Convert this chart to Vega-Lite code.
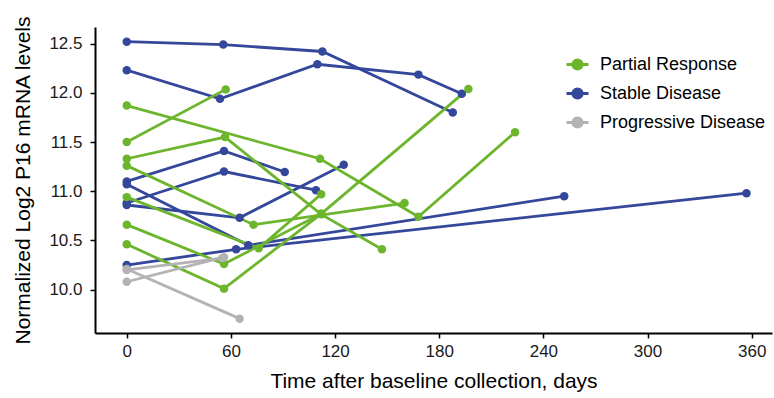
{
  "$schema": "https://vega.github.io/schema/vega-lite/v6.json",
  "width": 677,
  "height": 306,
  "autosize": {"type": "none"},
  "padding": {"left": 95, "top": 27, "right": 2, "bottom": 65},
  "background": "white",
  "config": {
    "view": {"stroke": null},
    "font": "Liberation Sans",
    "axis": {
      "grid": false,
      "domainColor": "#000000",
      "domainWidth": 2,
      "tickColor": "#000000",
      "tickWidth": 1.5,
      "tickSize": 5,
      "labelFont": "Liberation Sans",
      "labelFontSize": 17,
      "labelColor": "#1a1a1a",
      "titleFont": "Liberation Sans",
      "titleFontSize": 21,
      "titleFontWeight": "normal",
      "titleColor": "#000000"
    }
  },
  "data": {
    "values": [
      {"id": "B1", "group": "Stable Disease", "day": 0, "value": 12.52},
      {"id": "B1", "group": "Stable Disease", "day": 55.6, "value": 12.49},
      {"id": "B1", "group": "Stable Disease", "day": 112.7, "value": 12.42},
      {"id": "B1", "group": "Stable Disease", "day": 187.8, "value": 11.80},
      {"id": "B2", "group": "Stable Disease", "day": 0, "value": 12.23},
      {"id": "B2", "group": "Stable Disease", "day": 53.7, "value": 11.94},
      {"id": "B2", "group": "Stable Disease", "day": 109.8, "value": 12.29},
      {"id": "B2", "group": "Stable Disease", "day": 168, "value": 12.185},
      {"id": "B2", "group": "Stable Disease", "day": 193, "value": 11.99},
      {"id": "B3", "group": "Stable Disease", "day": 0, "value": 11.10},
      {"id": "B3", "group": "Stable Disease", "day": 56, "value": 11.41},
      {"id": "B3", "group": "Stable Disease", "day": 91, "value": 11.195},
      {"id": "B4", "group": "Stable Disease", "day": 0, "value": 10.88},
      {"id": "B4", "group": "Stable Disease", "day": 56, "value": 11.20},
      {"id": "B4", "group": "Stable Disease", "day": 109, "value": 11.01},
      {"id": "B5", "group": "Stable Disease", "day": 0, "value": 11.07},
      {"id": "B5", "group": "Stable Disease", "day": 70, "value": 10.45},
      {"id": "B5", "group": "Stable Disease", "day": 252, "value": 10.95},
      {"id": "B6", "group": "Stable Disease", "day": 0, "value": 10.86},
      {"id": "B6", "group": "Stable Disease", "day": 65, "value": 10.73},
      {"id": "B6", "group": "Stable Disease", "day": 125, "value": 11.27},
      {"id": "B7", "group": "Stable Disease", "day": 0, "value": 10.25},
      {"id": "B7", "group": "Stable Disease", "day": 63, "value": 10.41},
      {"id": "B7", "group": "Stable Disease", "day": 357, "value": 10.98},
      {"id": "P1", "group": "Partial Response", "day": 0, "value": 11.87},
      {"id": "P1", "group": "Partial Response", "day": 111.3, "value": 11.33},
      {"id": "P1", "group": "Partial Response", "day": 168, "value": 10.74},
      {"id": "P1", "group": "Partial Response", "day": 223.7, "value": 11.60},
      {"id": "P2", "group": "Partial Response", "day": 0, "value": 11.50},
      {"id": "P2", "group": "Partial Response", "day": 57, "value": 12.035},
      {"id": "P3", "group": "Partial Response", "day": 0, "value": 11.33},
      {"id": "P3", "group": "Partial Response", "day": 56.6, "value": 11.55},
      {"id": "P3", "group": "Partial Response", "day": 112, "value": 10.765},
      {"id": "P3", "group": "Partial Response", "day": 147, "value": 10.41},
      {"id": "P4", "group": "Partial Response", "day": 0, "value": 11.26},
      {"id": "P4", "group": "Partial Response", "day": 73, "value": 10.66},
      {"id": "P4", "group": "Partial Response", "day": 160, "value": 10.88},
      {"id": "P5", "group": "Partial Response", "day": 0, "value": 10.94},
      {"id": "P5", "group": "Partial Response", "day": 76, "value": 10.42},
      {"id": "P5", "group": "Partial Response", "day": 112, "value": 10.97},
      {"id": "P6", "group": "Partial Response", "day": 0, "value": 10.66},
      {"id": "P6", "group": "Partial Response", "day": 56, "value": 10.26},
      {"id": "P6", "group": "Partial Response", "day": 112, "value": 10.77},
      {"id": "P7", "group": "Partial Response", "day": 0, "value": 10.46},
      {"id": "P7", "group": "Partial Response", "day": 56, "value": 10.01},
      {"id": "P7", "group": "Partial Response", "day": 112, "value": 10.77},
      {"id": "P7", "group": "Partial Response", "day": 196.8, "value": 12.04},
      {"id": "G1", "group": "Progressive Disease", "day": 0, "value": 10.20},
      {"id": "G1", "group": "Progressive Disease", "day": 55, "value": 10.32},
      {"id": "G2", "group": "Progressive Disease", "day": 0, "value": 10.08},
      {"id": "G2", "group": "Progressive Disease", "day": 56, "value": 10.33},
      {"id": "G3", "group": "Progressive Disease", "day": 0, "value": 10.21},
      {"id": "G3", "group": "Progressive Disease", "day": 65, "value": 9.705}
    ]
  },
  "encoding": {
    "x": {
      "field": "day",
      "type": "quantitative",
      "scale": {"domain": [-18.3, 371.7], "nice": false, "zero": false},
      "axis": {"values": [0, 60, 120, 180, 240, 300, 360], "title": "Time after baseline collection, days", "labelPadding": 5, "titlePadding": 11}
    },
    "y": {
      "field": "value",
      "type": "quantitative",
      "scale": {"domain": [9.559, 12.669], "nice": false, "zero": false},
      "axis": {"values": [10, 10.5, 11, 11.5, 12, 12.5], "format": ".1f", "title": "Normalized Log2 P16 mRNA levels", "labelPadding": 8, "titlePadding": 15}
    },
    "color": {
      "field": "group",
      "type": "nominal",
      "scale": {
        "domain": ["Partial Response", "Stable Disease", "Progressive Disease"],
        "range": ["#6cb52d", "#34479a", "#b3b3b3"]
      },
      "legend": {
        "title": null,
        "orient": "none",
        "legendX": 470,
        "legendY": 25,
        "padding": 0,
        "rowPadding": 5,
        "labelFontSize": 18,
        "labelFont": "Liberation Sans",
        "labelColor": "#000000",
        "labelLimit": 0,
        "labelOffset": 10,
        "symbolSize": 484,
        "symbolStrokeWidth": 3,
        "symbolType": "M-1,0L1,0M-0.42,0A0.42,0.42,0,1,0,0.42,0A0.42,0.42,0,1,0,-0.42,0Z",
        "encode": {
          "symbols": {
            "update": {
              "fill": {"scale": "color", "field": "value"},
              "stroke": {"scale": "color", "field": "value"}
            }
          }
        }
      }
    },
    "detail": {"field": "id"}
  },
  "layer": [
    {"mark": {"type": "line", "strokeWidth": 2.8}},
    {"mark": {"type": "point", "filled": true, "size": 72, "opacity": 1}}
  ]
}
